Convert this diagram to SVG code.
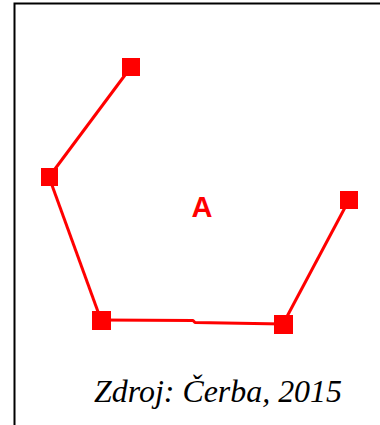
<svg xmlns="http://www.w3.org/2000/svg" width="380" height="425" viewBox="0 0 380 425">
<style>
.frame{fill:none;stroke:#000;stroke-width:2}
.edge{fill:none;stroke:#ff0000;stroke-width:3;stroke-linejoin:round}
.pt{fill:#ff0000}
.lbl{font-family:"Liberation Sans",Arial,sans-serif;font-weight:bold;font-size:29px;fill:#ff0000}
.cap{font-family:"Liberation Serif","Times New Roman",serif;font-style:italic;font-size:32px;fill:#000}
</style>
<rect width="380" height="425" fill="#fff"/>
<path class="frame" d="M14.5,425 V3.5 H380"/>
<g id="connectors">
<path class="edge" d="M131,67 L49,177"/>
<path class="edge" d="M49,177 L101,320"/>
<path class="edge" d="M101,320 L193,320.5 L195,322.5 L283,324"/>
<path class="edge" d="M283,324 L349,200"/>
</g>
<g id="p1"><rect class="pt" x="122" y="58" width="18" height="18"/></g>
<g id="p2"><rect class="pt" x="41" y="168" width="17" height="18"/></g>
<g id="p3"><rect class="pt" x="92" y="311" width="19" height="19"/></g>
<g id="p4"><rect class="pt" x="274" y="315" width="19" height="19"/></g>
<g id="p5"><rect class="pt" x="340" y="191" width="18" height="18"/></g>
<g id="label"><text class="lbl" x="202" y="217" text-anchor="middle">A</text></g>
<g id="caption"><text class="cap" x="94" y="402" textLength="248" lengthAdjust="spacingAndGlyphs">Zdroj: Čerba, 2015</text></g>
</svg>
